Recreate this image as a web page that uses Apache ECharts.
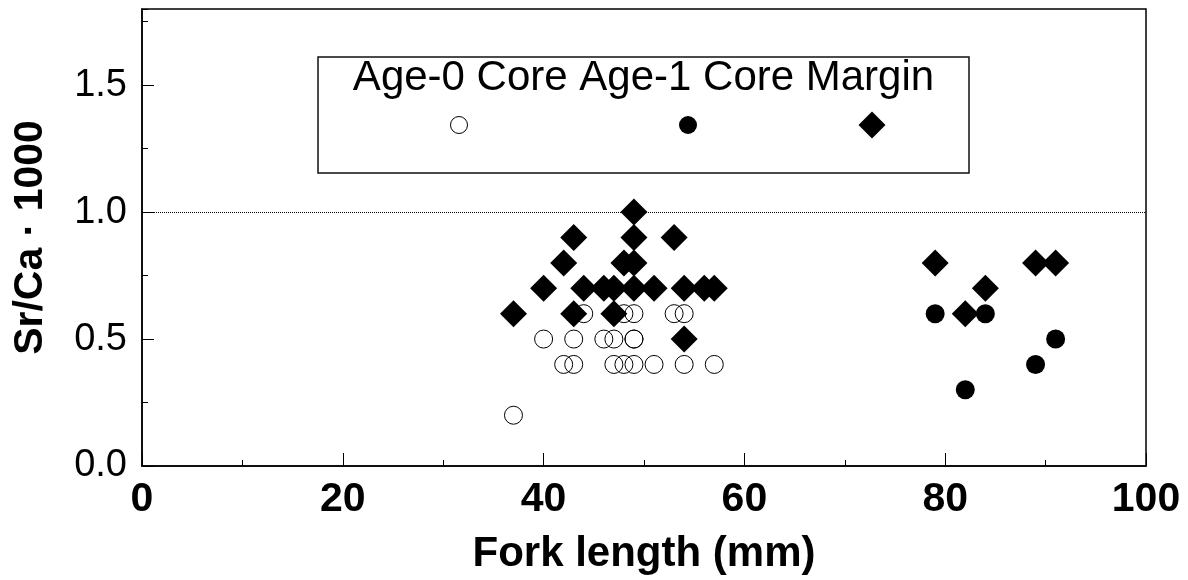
<!DOCTYPE html>
<html>
<head>
<meta charset="utf-8">
<script src="https://cdn.jsdelivr.net/npm/echarts@6/dist/echarts.min.js"></script>
<style>
  html, body { margin: 0; padding: 0; background: #fff; }
  #chart { width: 1188px; height: 580px; }
</style>
</head>
<body>
<div id="chart"></div>
<script>
// Series names (also used for the key box)
const seriesNames = ['Age-0 Core', 'Age-1 Core', 'Margin'];

// Fork length (mm) and Sr/Ca x 1000 for each group
const age0Length = [44, 48, 49, 53, 54, 40, 43, 46, 47, 49, 49, 42, 43, 47, 48, 49, 51, 54, 57, 37];
const age0SrCa   = [0.6, 0.6, 0.6, 0.6, 0.6, 0.5, 0.5, 0.5, 0.5, 0.5, 0.5, 0.4, 0.4, 0.4, 0.4, 0.4, 0.4, 0.4, 0.4, 0.2];

const age1Length = [79, 84, 91, 89, 82];
const age1SrCa   = [0.6, 0.6, 0.5, 0.4, 0.3];

const marginLength = [49, 43, 49, 53, 42, 48, 49, 40, 44, 46, 47, 49, 51, 54, 56, 57, 37, 43, 47, 54, 79, 89, 91, 84, 82];
const marginSrCa   = [1.0, 0.9, 0.9, 0.9, 0.8, 0.8, 0.8, 0.7, 0.7, 0.7, 0.7, 0.7, 0.7, 0.7, 0.7, 0.7, 0.6, 0.6, 0.6, 0.5, 0.8, 0.8, 0.8, 0.7, 0.6];

// Reference level drawn as a dotted line
const referenceLevel = [1.0];

// Axis tick labels
const xTicks = [0, 20, 40, 60, 80, 100];
const yTicks = [0.0, 0.5, 1.0, 1.5];

const pairs = (xs, ys) => xs.map((x, i) => [x, ys[i]]);

const FONT = '"Liberation Sans", Arial, Helvetica, sans-serif';

const chart = echarts.init(document.getElementById('chart'), null, { renderer: 'canvas' });

const grid = { left: 142, right: 42, top: 9, bottom: 114 };

// Key box geometry
const box = { x: 318, y: 57, w: 651, h: 116 };
const keyRowY = 125;
const keyX = [459, 688, 872];

const option = {
  animation: false,
  backgroundColor: '#ffffff',
  grid: Object.assign({ show: true, borderColor: '#000', borderWidth: 1.5, backgroundColor: 'transparent' }, grid),
  xAxis: {
    type: 'value',
    min: xTicks[0],
    max: xTicks[xTicks.length - 1],
    interval: xTicks[1] - xTicks[0],
    name: 'Fork length (mm)',
    nameLocation: 'middle',
    nameGap: 67,
    nameTextStyle: { fontFamily: FONT, fontSize: 42, fontWeight: 'bold', color: '#000' },
    axisLine: { show: true, lineStyle: { color: '#000', width: 1.5 } },
    axisTick: { show: true, inside: true, length: 13, lineStyle: { color: '#000', width: 1 } },
    minorTick: { show: true, splitNumber: 2, length: 6, lineStyle: { color: '#000', width: 1 } },
    splitLine: { show: false },
    axisLabel: { fontFamily: FONT, fontSize: 41, fontWeight: 'bold', color: '#000', margin: 13 }
  },
  yAxis: [
    {
      type: 'value',
      position: 'left',
      min: 0,
      max: 1.8,
      interval: yTicks[1] - yTicks[0],
      name: 'Sr/Ca · 1000',
      nameLocation: 'middle',
      nameGap: 91,
      nameTextStyle: { fontFamily: FONT, fontSize: 41, fontWeight: 'bold', color: '#000' },
      axisLine: { show: true, lineStyle: { color: '#000', width: 1.5 } },
      axisTick: { show: true, inside: true, length: 12, lineStyle: { color: '#000', width: 1 } },
      splitLine: { show: false },
      axisLabel: {
        fontFamily: FONT, fontSize: 38, color: '#000', margin: 15,
        showMaxLabel: false,
        formatter: v => (yTicks.some(t => Math.abs(t - v) < 1e-9) ? v.toFixed(1) : '')
      }
    },
    {
      // short ticks every 0.25
      type: 'value',
      position: 'left',
      min: 0,
      max: 1.8,
      interval: 0.25,
      axisLine: { show: false },
      axisTick: { show: true, inside: true, length: 6, lineStyle: { color: '#000', width: 1 } },
      axisLabel: { show: false },
      splitLine: { show: false }
    }
  ],
  series: [
    {
      name: seriesNames[0],
      type: 'scatter',
      symbol: 'circle',
      symbolSize: 18,
      itemStyle: { color: 'rgba(255,255,255,0)', borderColor: '#000', borderWidth: 1, opacity: 1 },
      data: pairs(age0Length, age0SrCa),
      markLine: {
        silent: true,
        symbol: ['none', 'none'],
        label: { show: false },
        lineStyle: { color: '#000', type: [1, 1], width: 1 },
        data: referenceLevel.map(v => ({ yAxis: v }))
      }
    },
    {
      name: seriesNames[1],
      type: 'scatter',
      symbol: 'circle',
      symbolSize: 19,
      itemStyle: { color: '#000', opacity: 1 },
      data: pairs(age1Length, age1SrCa)
    },
    {
      name: seriesNames[2],
      type: 'scatter',
      symbol: 'diamond',
      symbolSize: 27,
      itemStyle: { color: '#000', opacity: 1 },
      data: pairs(marginLength, marginSrCa)
    }
  ],
  graphic: [
    {
      type: 'rect',
      shape: { x: box.x, y: box.y, width: box.w, height: box.h },
      style: { fill: '#fff', stroke: '#111', lineWidth: 1.5 },
      z: 10
    },
    {
      type: 'text',
      x: box.x + box.w / 2,
      y: 78,
      style: {
        text: seriesNames.join(' '),
        font: '42px ' + FONT,
        fill: '#000',
        align: 'center',
        verticalAlign: 'middle'
      },
      z: 11
    },
    {
      type: 'circle',
      shape: { cx: keyX[0], cy: keyRowY, r: 8.5 },
      style: { fill: '#fff', stroke: '#000', lineWidth: 1 },
      z: 11
    },
    {
      type: 'circle',
      shape: { cx: keyX[1], cy: keyRowY, r: 9 },
      style: { fill: '#000' },
      z: 11
    },
    {
      type: 'polygon',
      shape: { points: [[keyX[2], keyRowY - 13.5], [keyX[2] + 13.5, keyRowY], [keyX[2], keyRowY + 13.5], [keyX[2] - 13.5, keyRowY]] },
      style: { fill: '#000' },
      z: 11
    }
  ]
};

chart.setOption(option);
</script>
</body>
</html>
